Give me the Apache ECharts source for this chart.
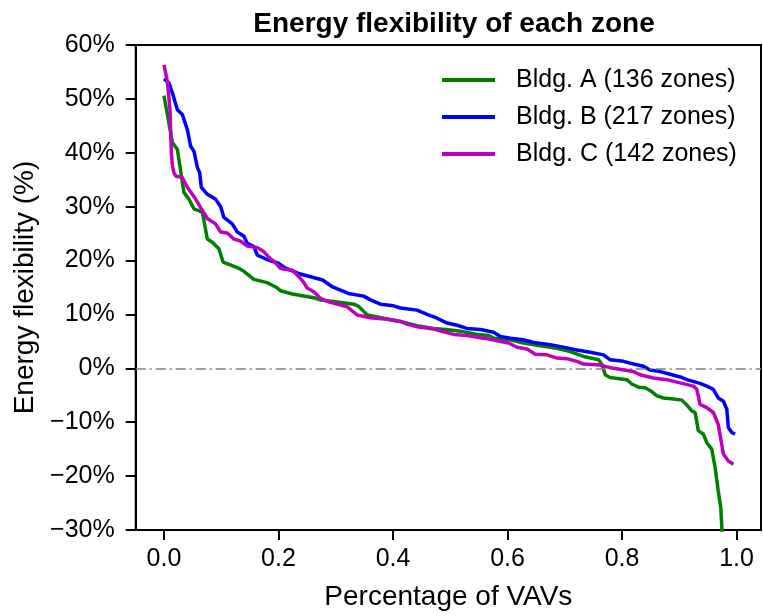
<!DOCTYPE html>
<html>
<head>
<meta charset="utf-8">
<script src="https://cdn.jsdelivr.net/npm/echarts@6/dist/echarts.min.js"></script>
<style>html,body{margin:0;padding:0;background:#fff}#c{width:763px;height:616px}</style>
</head>
<body>
<div id="c"></div>
<script>
// ---- data (x = fraction of VAVs, y = energy flexibility in %) ----
const titleText = 'Energy flexibility of each zone';
const xName = 'Percentage of VAVs';
const yName = 'Energy flexibility (%)';
const seriesNames = ['Bldg. A (136 zones)', 'Bldg. B (217 zones)', 'Bldg. C (142 zones)'];
const xTicks = [0.0, 0.2, 0.4, 0.6, 0.8, 1.0];
const yTicks = [-30, -20, -10, 0, 10, 20, 30, 40, 50, 60];

const bldgA_x = [0.000,0.0147,0.0234,0.0349,0.0436,0.0523,0.067,0.0757,0.0844,0.096,0.1033,0.128,0.1396,0.157,0.180,0.195,0.2036,0.224,0.2617,0.273,0.3025,0.3315,0.340,0.355,0.3838,0.413,0.442,0.471,0.500,0.5176,0.5467,0.567,0.5757,0.605,0.628,0.657,0.686,0.7095,0.7327,0.759,0.765,0.7706,0.779,0.8084,0.817,0.8287,0.840,0.849,0.861,0.8723,0.8897,0.9044,0.913,0.9218,0.9276,0.9333,0.942,0.948,0.9567,0.9625,0.968,0.9724,0.9756,0.982,0.987,0.992];
const bldgA_y = [50.6,41.9,40.6,32.6,31.4,29.6,29.0,24.0,23.4,22.2,19.7,18.7,18.0,16.5,15.9,15.1,14.4,13.8,13.1,12.7,12.3,11.9,11.5,9.9,9.3,8.7,7.9,7.4,7.1,6.9,6.3,6.1,5.6,5.3,4.7,4.2,3.7,3.1,2.2,1.6,0.7,-1.2,-1.7,-2.1,-2.9,-3.5,-3.6,-4.1,-5.1,-5.5,-5.7,-5.9,-6.8,-7.9,-8.2,-11.6,-12.2,-13.8,-15.0,-18.4,-22.7,-25.8,-32,-45,-60,-80];

const bldgB_x = [0,0.0087,0.0147,0.0234,0.032,0.0408,0.0466,0.0523,0.0583,0.0623,0.0652,0.0757,0.090,0.099,0.1047,0.1076,0.1193,0.128,0.1396,0.1455,0.157,0.163,0.180,0.200,0.2123,0.235,0.256,0.277,0.2943,0.322,0.349,0.3606,0.378,0.401,0.413,0.442,0.4595,0.477,0.4944,0.512,0.529,0.5525,0.5757,0.5874,0.605,0.628,0.6455,0.6746,0.7038,0.7212,0.7444,0.7676,0.779,0.8025,0.820,0.8374,0.849,0.8665,0.884,0.9014,0.916,0.9363,0.948,0.9595,0.968,0.977,0.983,0.9857,0.9916,0.9974];
const bldgB_y = [53.7,53.0,51.1,48.0,47.1,44.3,41.2,40.3,37.3,36.3,33.6,32.3,31.4,30.0,28.0,27.7,26.8,25.3,24.5,23.2,22.6,21.0,20.2,19.5,18.6,17.6,17.0,16.4,15.1,13.9,13.4,12.7,11.9,11.6,11.2,10.8,10.0,9.3,8.4,8.0,7.4,7.2,6.7,5.9,5.6,5.3,4.8,4.4,3.8,3.4,3.0,2.5,1.6,1.3,0.8,0.4,-0.3,-0.6,-1.1,-1.6,-2.2,-2.8,-3.3,-3.9,-5.5,-6.1,-7.6,-11.0,-11.9,-12.2];

const bldgC_x = [0,0.006,0.0105,0.0129,0.0147,0.0174,0.0204,0.032,0.0408,0.0495,0.0553,0.064,0.0757,0.090,0.099,0.1106,0.122,0.1338,0.1455,0.1635,0.174,0.186,0.193,0.2036,0.2245,0.2355,0.2437,0.250,0.2617,0.273,0.289,0.320,0.3374,0.3606,0.3897,0.413,0.4246,0.442,0.471,0.4885,0.506,0.529,0.5583,0.5816,0.602,0.6165,0.634,0.6485,0.669,0.6863,0.7038,0.7212,0.7327,0.7618,0.785,0.820,0.8316,0.8548,0.878,0.9014,0.9246,0.9306,0.9363,0.948,0.9595,0.968,0.977,0.9857,0.9944];
const bldgC_y = [56.3,53.2,48.0,40.0,37.6,36.3,35.7,35.4,33.6,32.3,31.4,29.8,27.8,26.8,25.3,25.1,24.0,23.6,22.7,22.4,21.7,20.3,19.8,18.5,18.2,17.0,16.0,14.9,14.2,13.0,12.3,11.4,9.9,9.4,9.1,8.7,8.2,7.7,7.3,6.8,6.3,6.1,5.6,5.1,4.7,3.9,3.6,2.6,2.5,1.9,1.8,1.3,0.8,0.6,0.0,-0.6,-1.2,-1.8,-2.1,-2.7,-3.3,-3.9,-6.7,-7.3,-8.2,-10.4,-15.9,-17.2,-17.8];

const seriesColors = ['#008000', '#0000ff', '#bf00bf'];

// ---- chart ----
const FONT = '"Liberation Sans", Arial, sans-serif';
const pair = (xs, ys) => xs.map((x, i) => [x, ys[i]]);
const chart = echarts.init(document.getElementById('c'), null, {renderer: 'canvas'});
const mkSeries = (name, data, color, z) => ({
  name, type: 'line', data, showSymbol: false, symbol: 'none', clip: true, z,
  lineStyle: {color, width: 3.5}, itemStyle: {color}, animation: false
});
chart.setOption({
  animation: false,
  backgroundColor: '#fff',
  title: {
    text: titleText, left: 449, top: 5, textAlign: 'center',
    textStyle: {fontFamily: FONT, fontWeight: 'bold', fontSize: 28, color: '#000'}
  },
  legend: {
    orient: 'vertical', left: 437, top: 61, itemWidth: 53, itemHeight: 4, itemGap: 9,
    icon: 'rect', data: seriesNames,
    textStyle: {fontFamily: FONT, fontSize: 25, color: '#000', lineHeight: 28, padding: [0, 0, 0, 16]}
  },
  grid: {left: 135.7, right: 2, top: 45, bottom: 83, show: true, borderColor: '#000', borderWidth: 2, backgroundColor: 'transparent'},
  xAxis: {
    type: 'value', min: -0.0494, max: 1.0427,
    name: xName, nameLocation: 'middle', nameGap: 53,
    nameTextStyle: {fontFamily: FONT, fontSize: 28, color: '#000'},
    axisLine: {show: true, onZero: false, lineStyle: {color: '#000', width: 2}},
    axisTick: {show: true, length: 10, customValues: xTicks, lineStyle: {color: '#000', width: 2}},
    axisLabel: {customValues: xTicks, margin: 17, fontFamily: FONT, fontSize: 25, color: '#000',
      formatter: v => v.toFixed(1)},
    splitLine: {show: false}
  },
  yAxis: {
    type: 'value', min: -30, max: 60, interval: 10,
    name: yName, nameLocation: 'middle', nameGap: 92,
    nameTextStyle: {fontFamily: FONT, fontSize: 28, color: '#000'},
    axisLine: {show: true, onZero: false, lineStyle: {color: '#000', width: 2}},
    axisTick: {show: true, length: 10, lineStyle: {color: '#000', width: 2}},
    axisLabel: {margin: 21, fontFamily: FONT, fontSize: 25, color: '#000',
      formatter: v => (v < 0 ? '\u2212' + Math.abs(v) : String(v)) + '%'},
    splitLine: {show: false}
  },
  series: [
    Object.assign(mkSeries(seriesNames[0], pair(bldgA_x, bldgA_y), seriesColors[0], 3), {
      markLine: {
        silent: true, symbol: 'none', label: {show: false}, animation: false,
        lineStyle: {color: '#808080', width: 1.5, type: [10, 4, 2, 4]},
        data: [{yAxis: 0}]
      }
    }),
    mkSeries(seriesNames[1], pair(bldgB_x, bldgB_y), seriesColors[1], 4),
    mkSeries(seriesNames[2], pair(bldgC_x, bldgC_y), seriesColors[2], 5)
  ]
});
</script>
</body>
</html>
